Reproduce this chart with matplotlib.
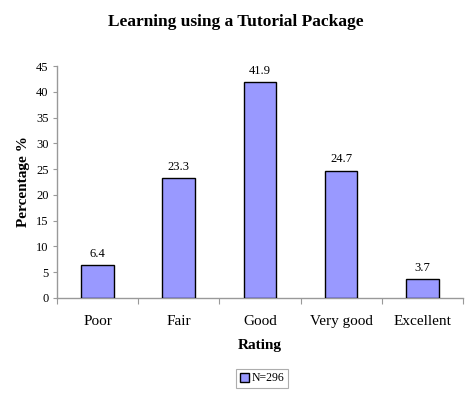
import matplotlib
matplotlib.use("Agg")
import matplotlib.pyplot as plt
import numpy as np

categories = ["Poor", "Fair", "Good", "Very good", "Excellent"]
values = [6.4, 23.3, 41.9, 24.7, 3.7]
yticks = [0, 5, 10, 15, 20, 25, 30, 35, 40, 45]

plt.rcParams['font.family'] = ['Liberation Serif', 'DejaVu Serif']

fig = plt.figure(figsize=(4.74, 3.93), dpi=100)
ax = fig.add_axes([0.120, 0.242, 0.857, 0.590])

x = np.arange(len(categories))
bars = ax.bar(x, values, width=0.4, color='#9999FF', edgecolor='black', linewidth=1.0,
              label='N=296', zorder=3)
for xi, v in zip(x, values):
    ax.text(xi, v + 1.0, f"{v}", ha='center', va='bottom', fontsize=9)

ax.set_xlim(-0.5, len(categories) - 0.5)
ax.set_ylim(0, 45)
ax.set_yticks(yticks)
ax.tick_params(axis='y', labelsize=9, length=3, color='#999999', direction='out', pad=3)
ax.set_xticks(np.arange(len(categories) + 1) - 0.5)
ax.set_xticklabels([])
ax.set_xticks(x, minor=True)
ax.set_xticklabels(categories, minor=True, fontsize=11)
ax.tick_params(axis='x', which='major', length=4, color='#999999', direction='out')
ax.tick_params(axis='x', which='minor', length=0, pad=12)

for s in ['top', 'right']:
    ax.spines[s].set_visible(False)
for s in ['left', 'bottom']:
    ax.spines[s].set_color('#999999')
    ax.spines[s].set_linewidth(1.0)

ax.set_ylabel('Percentage %', fontsize=11, fontweight='bold', labelpad=4)
ax.set_xlabel('Rating', fontsize=11, fontweight='bold', labelpad=8)
fig.text(0.498, 0.945, 'Learning using a Tutorial Package', ha='center', va='center',
         fontsize=12.5, fontweight='bold')

leg = fig.legend(handles=[bars], labels=['N=296'], loc='center', bbox_to_anchor=(0.553, 0.037),
                 fontsize=8.5, frameon=True, fancybox=False, edgecolor='#999999',
                 handlelength=0.8, handleheight=0.8, handletextpad=0.2, borderpad=0.3)
leg.get_frame().set_linewidth(0.8)

fig.savefig('out.png', dpi=100)
